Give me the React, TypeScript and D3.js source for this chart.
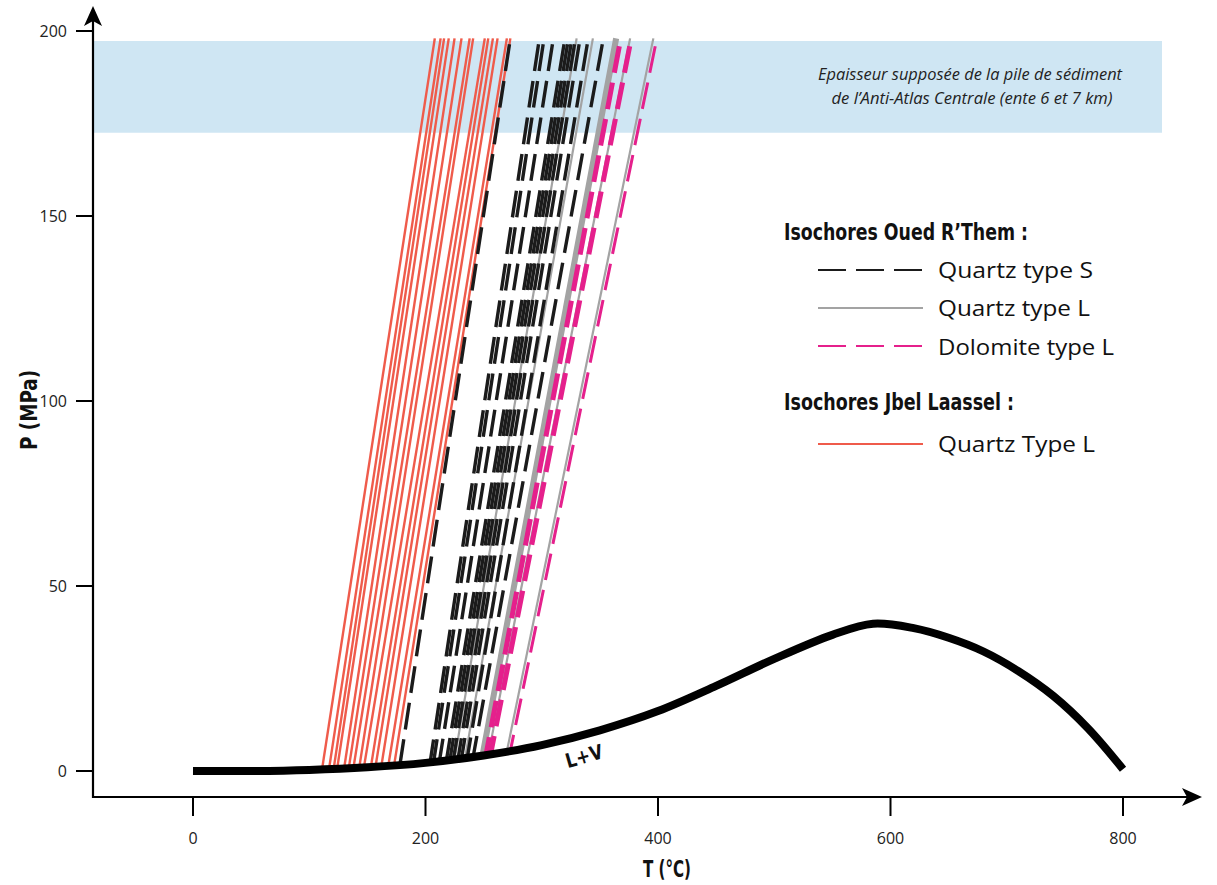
import React from "react";
import * as d3 from "d3";

// ---------- data ----------
const xTicks = [0, 200, 400, 600, 800];
const yTicks = [0, 50, 100, 150, 200];

// L+V boiling curve (T °C, P MPa)
const curveT = [0, 50, 100, 150, 200, 250, 300, 350, 400, 450, 500, 550, 585, 620, 650, 680, 710, 740, 770, 800];
const curveP = [0, 0, 0.3, 1.0, 2.2, 4.2, 7.0, 11.0, 16.2, 23.0, 30.3, 36.8, 39.8, 38.6, 36.0, 32.3, 27.0, 20.3, 11.5, 0.5];

// isochores: T where they leave the L+V curve, and T at the top (P = 198)
const redBottomT = [111, 117, 121, 124, 130, 134, 138, 143, 147, 153, 157, 162, 168, 173];
const redTopT = [208, 213, 216, 220, 225, 231, 238, 241, 251, 254, 258, 262, 270, 273];

const qsBottomT = [178, 204, 207, 212, 218, 221, 224, 228, 231, 236, 241];
const qsTopT = [273, 298, 302, 310, 320, 323, 326, 329, 333, 340, 353];

const qlBottomT = [225, 234, 249, 254, 270];
const qlTopT = [330, 344, 364, 376, 396];
const qlWidth = [2.2, 2.2, 6, 2.2, 2.2];

const dolBottomT = [252, 256, 273];
const dolTopT = [368, 377, 399];
const dolWidth = [5, 5, 3];

const topP = 198;
const bandP = [172.5, 197.3];

// ---------- layout ----------
const W = 1217;
const H = 885;
const xS = d3.scaleLinear().domain([0, 800]).range([193, 1123]);
const yS = d3.scaleLinear().domain([0, 200]).range([771, 31]);
const axisX0 = 93;
const axisY0 = 797;

const RED = "#ef5b4b";
const BLACK = "#1b1b1b";
const GRAY = "#a3a3a3";
const MAG = "#e5208c";
const BAND = "#cfe6f3";

const sans = "'Open Sans', 'Noto Sans', sans-serif";
const cond = "'Liberation Sans Narrow', 'DejaVu Sans Condensed', 'Roboto', sans-serif";

const interp = d3.scaleLinear().domain(curveT).range(curveP);
function curveAt(t: number): number {
  return interp(t);
}

function isoPath(tb: number, tt: number): string {
  const line = d3
    .line<[number, number]>()
    .x((d) => xS(d[0]))
    .y((d) => yS(d[1]));
  // drawn from the top so dash phases line up
  return line([
    [tt, topP],
    [tb, curveAt(tb)],
  ]) as string;
}

export default function App() {
  const curvePts: [number, number][] = curveT.map((t, i) => [t, curveP[i]]);
  const curvePath = d3
    .line<[number, number]>()
    .x((d) => xS(d[0]))
    .y((d) => yS(d[1]))
    .curve(d3.curveCatmullRom.alpha(0.5))(curvePts) as string;

  const lvX = 586;
  const lvY = 763;

  const legX1 = 818;
  const legX2 = 923;
  const legTextX = 938;

  return (
    <svg
      width={W}
      height={H}
      style={{ position: "absolute", left: 0, top: 0, background: "#ffffff" }}
    >
      {/* band */}
      <rect
        x={axisX0}
        y={yS(bandP[1])}
        width={1162 - axisX0}
        height={yS(bandP[0]) - yS(bandP[1])}
        fill={BAND}
      />
      <text
        x={970}
        y={80}
        textAnchor="middle"
        fontFamily={sans}
        fontStyle="italic"
        fontSize={16}
        fill="#222"
        textLength={304}
        lengthAdjust="spacingAndGlyphs"
      >
        Epaisseur supposée de la pile de sédiment
      </text>
      <text
        x={972}
        y={104}
        textAnchor="middle"
        fontFamily={sans}
        fontStyle="italic"
        fontSize={16}
        fill="#222"
        textLength={281}
        lengthAdjust="spacingAndGlyphs"
      >
        de l’Anti-Atlas Centrale (ente 6 et 7 km)
      </text>

      {/* red isochores (Jbel Laassel) */}
      {redBottomT.map((tb, i) => (
        <path key={"r" + i} d={isoPath(tb, redTopT[i])} stroke={RED} strokeWidth={2.4} fill="none" />
      ))}
      {/* gray isochores */}
      {qlBottomT.map((tb, i) => (
        <path key={"g" + i} d={isoPath(tb, qlTopT[i])} stroke={GRAY} strokeWidth={qlWidth[i]} fill="none" />
      ))}
      {/* black dashed */}
      {qsBottomT.map((tb, i) => (
        <path
          key={"b" + i}
          d={isoPath(tb, qsTopT[i])}
          stroke={BLACK}
          strokeWidth={3.4}
          strokeDasharray="27 10"
          strokeDashoffset={31}
          fill="none"
        />
      ))}
      {/* magenta dashed */}
      {dolBottomT.map((tb, i) => (
        <path
          key={"m" + i}
          d={isoPath(tb, dolTopT[i])}
          stroke={MAG}
          strokeWidth={dolWidth[i]}
          strokeDasharray="27 10"
          strokeDashoffset={29}
          fill="none"
        />
      ))}

      {/* L+V curve */}
      <path d={curvePath} stroke="#000" strokeWidth={8} fill="none" strokeLinecap="butt" />
      <text
        x={lvX}
        y={lvY}
        fontFamily={cond}
        fontWeight="bold"
        fontSize={20}
        fill="#111"
        transform={`rotate(-16 ${lvX} ${lvY})`}
        textAnchor="middle"
        textLength={38}
        lengthAdjust="spacingAndGlyphs"
      >
        L+V
      </text>

      {/* axes */}
      <line x1={axisX0} y1={axisY0} x2={1190} y2={axisY0} stroke="#000" strokeWidth={2.2} />
      <line x1={axisX0} y1={axisY0 + 1} x2={axisX0} y2={18} stroke="#000" strokeWidth={2.2} />
      <path d={`M1202,${axisY0} L1182,${axisY0 - 9} L1187,${axisY0} L1182,${axisY0 + 9} Z`} fill="#000" />
      <path d={`M${axisX0},6 L${axisX0 - 9},26 L${axisX0},21 L${axisX0 + 9},26 Z`} fill="#000" />

      {xTicks.map((t) => (
        <g key={"xt" + t}>
          <line x1={xS(t)} x2={xS(t)} y1={axisY0} y2={axisY0 + 19} stroke="#000" strokeWidth={2} />
          <text x={xS(t)} y={844} textAnchor="middle" fontFamily={sans} fontSize={16} fill="#222">
            {t}
          </text>
        </g>
      ))}
      {yTicks.map((p) => (
        <g key={"yt" + p}>
          <line x1={76} x2={axisX0} y1={yS(p)} y2={yS(p)} stroke="#000" strokeWidth={2} />
          <text x={67} y={yS(p) + 6} textAnchor="end" fontFamily={sans} fontSize={16} fill="#222">
            {p}
          </text>
        </g>
      ))}

      {/* axis titles */}
      <text
        x={667}
        y={877}
        textAnchor="middle"
        fontFamily={cond}
        fontWeight="bold"
        fontSize={23}
        fill="#111"
        textLength={48}
        lengthAdjust="spacingAndGlyphs"
      >
        T (°C)
      </text>
      <text
        x={37}
        y={410}
        textAnchor="middle"
        fontFamily={cond}
        fontWeight="bold"
        fontSize={23}
        fill="#111"
        transform="rotate(-90 37 410)"
        textLength={80}
        lengthAdjust="spacingAndGlyphs"
      >
        P (MPa)
      </text>

      {/* legend */}
      <text
        x={784}
        y={240}
        fontFamily={cond}
        fontWeight="bold"
        fontSize={23}
        fill="#111"
        textLength={244}
        lengthAdjust="spacingAndGlyphs"
      >
        Isochores Oued R’Them :
      </text>
      <line x1={legX1} x2={legX2} y1={270} y2={270} stroke={BLACK} strokeWidth={2.2} strokeDasharray="28 10" />
      <text x={legTextX} y={278} fontFamily={sans} fontSize={21} fill="#111" textLength={155} lengthAdjust="spacingAndGlyphs">
        Quartz type S
      </text>
      <line x1={legX1} x2={legX2} y1={308} y2={308} stroke={GRAY} strokeWidth={2.2} />
      <text x={legTextX} y={316} fontFamily={sans} fontSize={21} fill="#111" textLength={152} lengthAdjust="spacingAndGlyphs">
        Quartz type L
      </text>
      <line x1={legX1} x2={legX2} y1={346} y2={346} stroke={MAG} strokeWidth={2.2} strokeDasharray="28 10" />
      <text x={legTextX} y={355} fontFamily={sans} fontSize={21} fill="#111" textLength={176} lengthAdjust="spacingAndGlyphs">
        Dolomite type L
      </text>
      <text
        x={784}
        y={410}
        fontFamily={cond}
        fontWeight="bold"
        fontSize={23}
        fill="#111"
        textLength={230}
        lengthAdjust="spacingAndGlyphs"
      >
        Isochores Jbel Laassel :
      </text>
      <line x1={legX1} x2={legX2} y1={444} y2={444} stroke={RED} strokeWidth={2.2} />
      <text x={legTextX} y={452} fontFamily={sans} fontSize={21} fill="#111" textLength={157} lengthAdjust="spacingAndGlyphs">
        Quartz Type L
      </text>
    </svg>
  );
}
